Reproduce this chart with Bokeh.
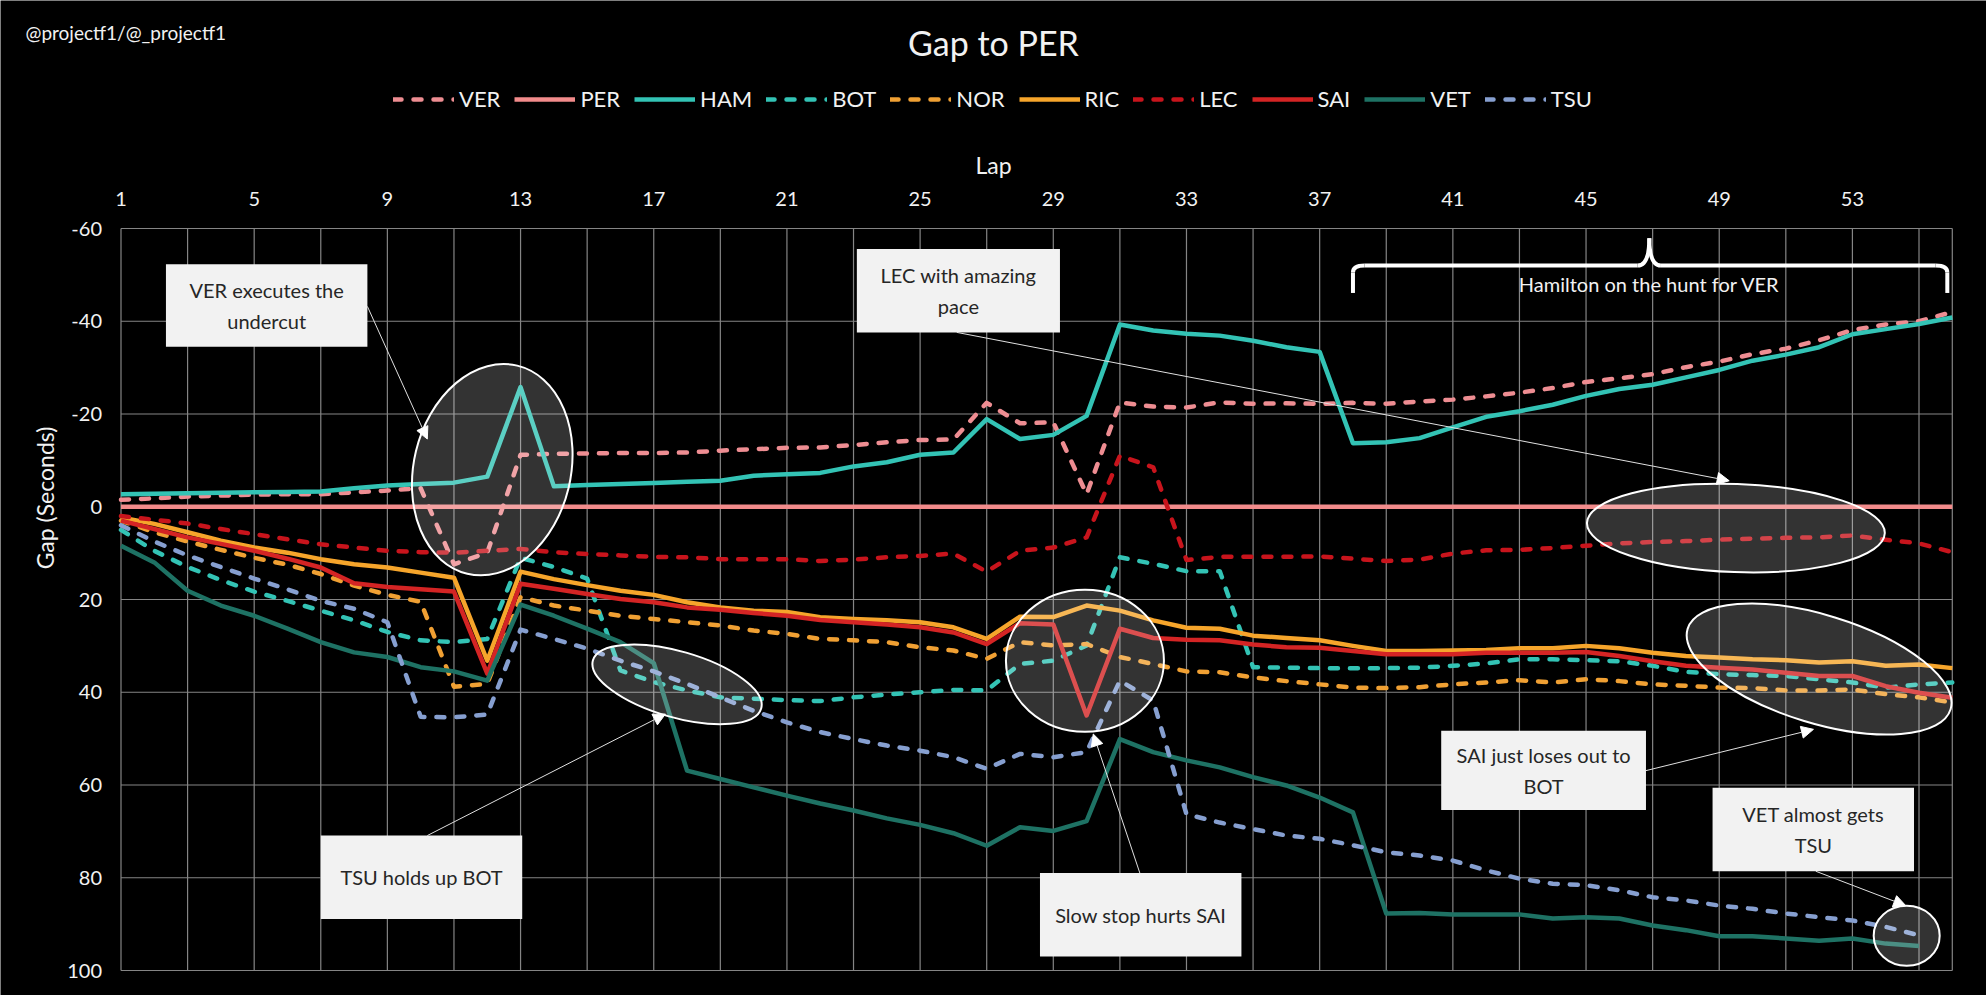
import numpy as np
from bokeh.plotting import figure
from bokeh.models import (Range1d, FixedTicker, Legend, LegendItem, Label, Arrow, NormalHead,
                          PrintfTickFormatter)
from bokeh.core.properties import value
from bokeh.embed import file_html
from bokeh.resources import INLINE

FONT = "Lato"

# ---------------- data ----------------
laps = list(range(1, 57))
VER = [-1.5, -1.8, -2.2, -2.4, -2.6, -2.7, -2.7, -3.1, -3.5, -4.0, 12.4, 9.9, -11.2, -11.4, -11.5, -11.6,
       -11.6, -11.7, -12.1, -12.4, -12.7, -12.8, -13.3, -13.9, -14.4, -14.5, -22.4, -18.0, -18.2, -2.7,
       -22.5, -21.6, -21.4, -22.5, -22.2, -22.3, -22.2, -22.4, -22.2, -22.7, -23.1, -23.8, -24.6, -25.6,
       -26.9, -27.7, -28.6, -30.1, -31.3, -32.9, -34.1, -35.9, -38.1, -39.3, -40.0, -42.0]
PER = [0.0] * 56
HAM = [-2.7, -2.8, -2.9, -3.0, -3.1, -3.2, -3.3, -4.0, -4.6, -4.9, -5.2, -6.5, -25.8, -4.4, -4.7, -4.9,
       -5.1, -5.4, -5.6, -6.7, -7.0, -7.3, -8.7, -9.6, -11.2, -11.7, -18.9, -14.6, -15.5, -19.6, -39.3,
       -38.0, -37.3, -36.9, -35.8, -34.4, -33.4, -13.7, -13.9, -14.8, -17.1, -19.4, -20.6, -22.0, -23.9,
       -25.4, -26.3, -27.9, -29.5, -31.5, -32.8, -34.4, -37.2, -38.3, -39.4, -40.8]
BOT = [5.0, 9.5, 13.0, 15.8, 18.3, 20.3, 22.4, 24.5, 27.0, 28.8, 29.2, 28.5, 11.0, 13.0, 15.5, 35.3,
       37.8, 39.6, 41.1, 41.4, 41.7, 41.9, 41.1, 40.5, 40.0, 39.5, 39.6, 33.9, 33.2, 29.9, 10.9, 12.3,
       13.9, 13.9, 34.6, 34.7, 34.8, 34.8, 34.8, 34.7, 34.3, 33.8, 32.9, 32.9, 33.1, 33.3, 34.3, 35.6,
       36.1, 36.3, 36.5, 37.2, 37.9, 39.0, 38.3, 37.9]
NOR = [3.0, 5.5, 7.5, 9.3, 11.0, 12.5, 14.5, 17.0, 19.0, 20.5, 38.8, 38.2, 19.5, 21.3, 22.4, 23.5,
       24.2, 24.9, 25.6, 26.7, 27.4, 28.5, 28.8, 29.2, 30.3, 31.0, 32.8, 29.2, 29.9, 29.6, 32.4, 33.9,
       35.5, 35.7, 36.8, 37.6, 38.3, 39.0, 39.1, 38.9, 38.3, 37.9, 37.4, 37.9, 37.2, 37.6, 38.3, 38.6,
       39.0, 39.1, 39.6, 39.6, 39.4, 40.4, 41.1, 42.2]
RIC = [2.3, 3.7, 5.5, 7.3, 8.8, 9.9, 11.3, 12.4, 13.1, 14.2, 15.3, 33.2, 14.0, 15.6, 16.9, 18.1,
       19.0, 20.6, 21.7, 22.4, 22.7, 23.8, 24.2, 24.5, 24.9, 26.0, 28.5, 23.7, 23.8, 21.3, 22.4, 24.5,
       26.1, 26.3, 27.8, 28.3, 28.8, 30.0, 31.1, 31.1, 31.0, 30.9, 30.5, 30.5, 30.0, 30.5, 31.5, 32.2,
       32.5, 32.9, 33.1, 33.6, 33.3, 34.3, 34.0, 34.8]
LEC = [2.0, 2.8, 3.6, 4.8, 5.9, 7.0, 8.1, 8.8, 9.5, 9.8, 9.9, 9.5, 9.1, 9.8, 10.2, 10.5, 10.8, 10.9,
       11.3, 11.3, 11.3, 11.7, 11.4, 10.9, 10.6, 10.1, 14.0, 9.5, 8.8, 6.6, -11.0, -8.5, 11.5, 10.8,
       10.8, 10.8, 10.7, 11.2, 11.7, 11.4, 10.1, 9.4, 9.3, 8.9, 8.4, 7.9, 7.6, 7.4, 7.1, 6.9, 6.7, 6.6,
       6.2, 7.1, 7.9, 9.8]
SAI = [3.0, 4.8, 6.6, 8.0, 9.5, 11.2, 13.1, 16.5, 17.3, 17.8, 18.3, 36.0, 16.6, 17.7, 18.8, 19.9,
       20.6, 21.7, 22.2, 22.9, 23.5, 24.4, 24.9, 25.4, 26.0, 27.1, 29.6, 25.1, 25.4, 45.0, 26.3, 28.3,
       28.7, 28.8, 29.7, 30.3, 30.4, 31.1, 31.8, 31.8, 31.8, 31.5, 31.5, 31.5, 31.3, 32.2, 33.3, 34.3,
       34.7, 35.1, 35.8, 36.5, 36.5, 38.7, 40.1, 41.2]
VET = [8.4, 12.0, 18.1, 21.3, 23.5, 26.3, 29.2, 31.4, 32.4, 34.6, 35.5, 37.5, 21.1, 23.5, 26.3, 29.2,
       33.7, 56.9, 58.7, 60.5, 62.3, 64.0, 65.5, 67.2, 68.6, 70.4, 73.1, 69.1, 69.9, 67.8, 50.1, 52.9,
       54.7, 56.2, 58.3, 60.1, 62.7, 65.9, 87.7, 87.6, 87.9, 87.9, 87.9, 88.8, 88.5, 88.8, 90.3, 91.3,
       92.6, 92.6, 93.1, 93.6, 93.1, 94.2, 94.7]
TSU = [4.0, 7.5, 10.5, 13.0, 15.5, 17.8, 20.3, 22.0, 24.9, 45.3, 45.4, 44.8, 26.5, 28.5, 30.6, 33.2,
       35.5, 38.2, 41.1, 44.0, 46.5, 48.6, 50.1, 51.5, 52.6, 54.0, 56.5, 53.3, 54.0, 52.9, 37.5, 41.8,
       66.3, 68.1, 69.5, 70.9, 71.6, 73.0, 74.5, 75.2, 76.3, 78.4, 80.2, 81.3, 81.6, 82.7, 84.2, 84.9,
       86.0, 86.7, 87.7, 88.5, 89.2, 90.6, 92.4]

drivers = ["VER", "PER", "HAM", "BOT", "NOR", "RIC", "LEC", "SAI", "VET", "TSU"]
gaps = [VER, PER, HAM, BOT, NOR, RIC, LEC, SAI, VET, TSU]
colors = ["#EE8D92", "#F28B8B", "#33C3B5", "#33C3B5", "#F0A033", "#F6A52B", "#C8141C", "#D42424",
          "#1E7264", "#869FD0"]
dashed = [True, False, False, True, True, False, True, False, False, True]

x_ticks = list(range(1, 57, 4))
x_grid = list(range(1, 57, 2)) + [56]
y_ticks = [-60, -40, -20, 0, 20, 40, 60, 80, 100]

# annotation boxes
box_left = [2.35, 23.1, 7.0, 28.6, 40.65, 48.8]
box_right = [8.4, 29.2, 13.05, 34.65, 46.8, 54.85]
box_top = [-52.3, -55.6, 70.9, 79.0, 48.3, 60.6]
box_bottom = [-34.5, -37.6, 88.9, 97.0, 65.4, 78.6]
box_text = ["VER executes the\nundercut", "LEC with amazing\npace", "TSU holds up BOT",
            "Slow stop hurts SAI", "SAI just loses out to\nBOT", "VET almost gets\nTSU"]
# highlight ellipses (centre in data, size in px)
ell_x = [12.15, 49.5, 17.7, 29.95, 52.0, 54.63]
ell_y = [-8.0, 4.6, 38.3, 33.2, 35.0, 92.5]
ell_w = [157, 298, 175, 158, 275, 66]
ell_h = [214, 88, 66, 142, 108, 60]
ell_ang = [-13.5, -2.0, -16.0, 0.0, -17.0, 0.0]
# arrows
arr_x0 = [8.4, 26.1, 10.2, 31.6, 46.8, 51.9]
arr_y0 = [-43.2, -37.6, 70.9, 79.0, 56.9, 78.6]
arr_x1 = [10.2, 49.3, 17.35, 30.2, 51.83, 54.6]
arr_y1 = [-14.6, -5.6, 44.7, 49.0, 48.0, 86.0]
# brace
brace_x = [38.0, 46.9, 55.85]
brace_y = [-46.1, -52.0, -57.9]
brace_label_y = -48.0

TXT = "#F2F2F2"

# ---------------- layout (pixels) ----------------
W, H = 1986, 995
PX_L, PX_R, PX_T, PX_B = 120.5, 1951.8, 228.0, 970.0   # data area inside the frame
X0, X1, Y0, Y1 = 1, 56, -60, 100
sx = (PX_R - PX_L) / (X1 - X0)
sy = (PX_B - PX_T) / (Y1 - Y0)
x_rng = Range1d(X0 - PX_L / sx, X1 + (W - PX_R) / sx)
y_rng = Range1d(Y1 + (H - PX_B) / sy, Y0 - PX_T / sy)

p = figure(width=W, height=H, x_range=x_rng, y_range=y_rng, x_axis_location="above",
           output_backend="svg", toolbar_location=None, min_border=0,
           background_fill_color="black", border_fill_color="black", outline_line_color=None)
p.grid.visible = False

for ax in (p.xaxis[0], p.yaxis[0]):
    ax.axis_line_color = None
    ax.major_tick_line_color = None
    ax.minor_tick_line_color = None
    ax.major_label_text_color = TXT
    ax.major_label_text_font = FONT
    ax.major_label_text_font_size = "20px"
    ax.axis_label_text_color = TXT
    ax.axis_label_text_font = FONT
    ax.axis_label_text_font_size = "23px"
    ax.axis_label_text_font_style = "normal"

p.xaxis.fixed_location = Y0
p.xaxis.ticker = FixedTicker(ticks=x_ticks)
p.xaxis.axis_label = "Lap"
p.xaxis.major_label_standoff = 17
p.xaxis.axis_label_standoff = 10
p.yaxis.fixed_location = X0
p.yaxis.ticker = FixedTicker(ticks=y_ticks)
p.yaxis.formatter = PrintfTickFormatter(format="%d")
p.yaxis.axis_label = "Gap (Seconds)"
p.yaxis.major_label_standoff = 13
p.yaxis.axis_label_standoff = 6

# grid lines, limited to the chart area
GRID = "#858585"
p.segment(x0=x_grid, y0=[Y0] * len(x_grid), x1=x_grid, y1=[Y1] * len(x_grid),
          line_color=GRID, line_width=1.2)
p.segment(x0=[X0] * len(y_ticks), y0=y_ticks, x1=[X1] * len(y_ticks), y1=y_ticks,
          line_color=GRID, line_width=1.2)

items = []
for name, ys, col, dsh in zip(drivers, gaps, colors, dashed):
    r = p.line(laps[:len(ys)], ys, line_color=col, line_width=4.5,
               line_dash="8 12" if dsh else "solid", line_cap="round" if dsh else "butt",
               line_join="round")
    items.append(LegendItem(label=name, renderers=[r]))

# highlight ellipses
p.ellipse(x=ell_x, y=ell_y, width=ell_w, height=ell_h, angle=[np.deg2rad(a) for a in ell_ang],
          width_units="screen", height_units="screen",
          fill_color="white", fill_alpha=0.2, line_color="white", line_width=2)

# arrows
for xs, ys, xe, ye in zip(arr_x0, arr_y0, arr_x1, arr_y1):
    p.add_layout(Arrow(end=NormalHead(size=12, fill_color="white", line_color="white", line_width=1),
                       x_start=xs, y_start=ys, x_end=xe, y_end=ye,
                       line_color="#E0E0E0", line_width=1))

# boxes
p.quad(left=box_left, right=box_right, top=box_top, bottom=box_bottom,
       fill_color="#F2F2F2", line_color=None)
p.text(x=[(a + b) / 2 for a, b in zip(box_left, box_right)],
       y=[(a + b) / 2 for a, b in zip(box_top, box_bottom)], text=box_text,
       text_align="center", text_baseline="middle", text_font=value(FONT),
       text_font_size="20px", text_color="#262626", text_line_height=1.3)

# brace
bx0, bxm, bx1 = brace_x
by0, byh, byt = brace_y
p.segment(x0=[bx0, bx0 + 0.35, bxm + 0.35, bx1], y0=[by0, byh, byh, by0],
          x1=[bx0, bxm - 0.35, bx1 - 0.35, bx1], y1=[byh + 1.5, byh, byh, byh + 1.5],
          line_color="white", line_width=4)
p.quadratic(x0=[bx0, bxm - 0.35, bxm, bx1 - 0.35], y0=[byh + 1.5, byh, byt, byh],
            x1=[bx0 + 0.35, bxm, bxm + 0.35, bx1], y1=[byh, byt, byh, byh + 1.5],
            cx=[bx0, bxm, bxm, bx1], cy=[byh, byh, byh, byh],
            line_color="white", line_width=4)
p.text(x=[bxm], y=[brace_label_y], text=["Hamilton on the hunt for VER"],
       text_align="center", text_baseline="middle", text_font=value(FONT),
       text_font_size="20px", text_color=TXT)

legend = Legend(items=items, orientation="horizontal", location=(393, H - 99 - 13),
                background_fill_alpha=0, border_line_color=None,
                label_text_color=TXT, label_text_font=FONT, label_text_font_size="22px",
                glyph_width=61, glyph_height=22, label_standoff=5, spacing=14,
                padding=0, margin=0)
p.add_layout(legend)

p.add_layout(Label(x=993, y=H - 42, x_units="screen", y_units="screen", text="Gap to PER",
                   text_align="center", text_baseline="middle", text_font=FONT,
                   text_font_size="34px", text_color=TXT))
p.add_layout(Label(x=25, y=H - 32, x_units="screen", y_units="screen",
                   text="@projectf1/@_projectf1", text_align="left", text_baseline="middle",
                   text_font=FONT, text_font_size="19px", text_color=TXT))

open("out.html", "w").write(file_html(p, INLINE))
